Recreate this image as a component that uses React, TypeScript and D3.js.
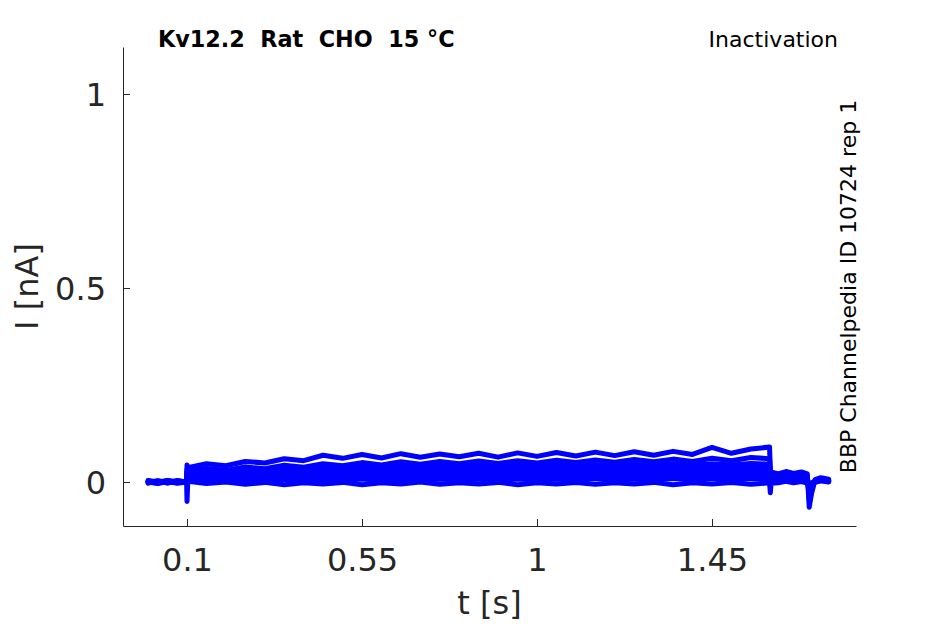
import { useRef, useEffect } from 'react';
import * as d3 from 'd3';

// Sample times (s) shared by every sweep: holding, step, tail
const timeS = [
  0, 0.025, 0.05, 0.075, 0.099,
  0.1, 0.102, 0.15, 0.2, 0.25, 0.3, 0.35, 0.4, 0.45, 0.5, 0.55, 0.6, 0.65, 0.7, 0.75, 0.8,
  0.85, 0.9, 0.95, 1.0, 1.05, 1.1, 1.15, 1.2, 1.25, 1.3, 1.35, 1.4, 1.45, 1.5, 1.55, 1.598,
  1.6, 1.602, 1.62, 1.64, 1.66, 1.68, 1.695, 1.7, 1.706, 1.715, 1.73, 1.75,
];

// Current (nA) per sweep
const sweepA = [
  0.003, -0.002, 0.003, -0.001, 0.002,
  0.044, 0.037, 0.047, 0.042, 0.053, 0.049, 0.06, 0.055, 0.069, 0.061, 0.071, 0.062, 0.073, 0.064, 0.072, 0.065,
  0.074, 0.064, 0.075, 0.066, 0.076, 0.067, 0.077, 0.068, 0.078, 0.069, 0.079, 0.071, 0.089, 0.074, 0.085, 0.09,
  0.03, 0.026, 0.021, 0.027, 0.022, 0.026, 0.021, -0.065, -0.03, 0.006, 0.011, 0.007,
];
const sweepB = [
  -0.002, 0.003, -0.001, 0.004, 0.0,
  0.032, 0.027, 0.035, 0.03, 0.039, 0.034, 0.043, 0.038, 0.047, 0.042, 0.05, 0.044, 0.052, 0.046, 0.053, 0.047,
  0.054, 0.048, 0.055, 0.049, 0.056, 0.05, 0.057, 0.051, 0.058, 0.052, 0.059, 0.053, 0.061, 0.055, 0.063, 0.06,
  0.024, 0.02, 0.016, 0.022, 0.017, 0.021, 0.017, -0.045, -0.02, 0.004, 0.009, 0.005,
];
const sweepC = [
  0.001, -0.003, 0.002, -0.002, 0.003,
  0.027, 0.023, 0.029, 0.026, 0.032, 0.029, 0.035, 0.031, 0.037, 0.034, 0.039, 0.036, 0.041, 0.037, 0.042, 0.038,
  0.043, 0.039, 0.043, 0.04, 0.044, 0.041, 0.045, 0.041, 0.046, 0.042, 0.047, 0.043, 0.047, 0.044, 0.048, 0.046,
  0.02, 0.017, 0.013, 0.018, 0.014, 0.018, 0.013, -0.035, -0.012, 0.003, 0.008, 0.004,
];
const sweepD = [
  0.004, 0.0, 0.003, -0.001, 0.001,
  0.022, 0.018, 0.023, 0.02, 0.025, 0.022, 0.027, 0.024, 0.029, 0.025, 0.03, 0.027, 0.031, 0.028, 0.032, 0.028,
  0.033, 0.029, 0.033, 0.03, 0.034, 0.03, 0.034, 0.031, 0.035, 0.032, 0.036, 0.032, 0.036, 0.033, 0.037, 0.035,
  0.016, 0.013, 0.01, 0.015, 0.011, 0.014, 0.01, -0.027, -0.008, 0.002, 0.007, 0.003,
];
const sweepE = [
  -0.003, 0.002, -0.002, 0.003, -0.001,
  0.017, 0.013, 0.018, 0.015, 0.019, 0.016, 0.02, 0.017, 0.021, 0.018, 0.022, 0.019, 0.023, 0.02, 0.023, 0.02,
  0.024, 0.021, 0.024, 0.021, 0.025, 0.022, 0.025, 0.022, 0.026, 0.023, 0.026, 0.023, 0.027, 0.024, 0.027, 0.025,
  0.012, 0.01, 0.007, 0.011, 0.008, 0.011, 0.007, -0.02, -0.005, 0.002, 0.006, 0.002,
];
const sweepF = [
  0.002, -0.001, 0.004, 0.0, 0.002,
  0.012, 0.008, 0.012, 0.009, 0.013, 0.01, 0.014, 0.011, 0.014, 0.011, 0.015, 0.012, 0.015, 0.012, 0.015, 0.012,
  0.016, 0.013, 0.016, 0.013, 0.016, 0.013, 0.017, 0.014, 0.017, 0.014, 0.017, 0.014, 0.018, 0.015, 0.018, 0.016,
  0.009, 0.007, 0.004, 0.008, 0.005, 0.008, 0.004, -0.015, -0.003, 0.001, 0.005, 0.002,
];
const sweepG = [
  -0.001, 0.003, -0.003, 0.002, -0.002,
  0.006, 0.002, 0.006, 0.003, 0.007, 0.004, 0.007, 0.003, 0.007, 0.004, 0.008, 0.004, 0.007, 0.004, 0.008, 0.005,
  0.008, 0.004, 0.008, 0.005, 0.008, 0.005, 0.009, 0.005, 0.008, 0.005, 0.009, 0.006, 0.009, 0.005, 0.009, 0.007,
  0.005, 0.003, 0.001, 0.005, 0.002, 0.004, 0.001, -0.01, -0.002, 0.001, 0.004, 0.001,
];
const sweepH = [
  0.0, -0.004, 0.001, -0.003, 0.0,
  -0.05, 0.002, -0.004, 0.0, -0.006, -0.001, -0.007, -0.002, -0.005, -0.001, -0.007, -0.002, -0.005, 0.0, -0.006, -0.002,
  -0.005, -0.001, -0.007, -0.002, -0.005, -0.001, -0.006, -0.002, -0.005, -0.001, -0.007, -0.002, -0.005, -0.001, -0.006, -0.002,
  -0.028, -0.003, -0.002, 0.002, -0.002, 0.001, -0.003, -0.006, -0.003, -0.001, 0.003, 0.0,
];

const sweeps = [sweepA, sweepB, sweepC, sweepD, sweepE, sweepF, sweepG, sweepH];

const xTicks = [0.1, 0.55, 1, 1.45];
const yTicks = [0, 0.5, 1];
const xDomain = [-0.0646, 1.8203];
const yDomain = [-0.1134, 1.1211];

const titleText = 'Kv12.2  Rat  CHO  15 °C';
const protocolText = 'Inactivation';
const sourceText = 'BBP Channelpedia ID 10724 rep 1';

export default function App() {
  const svgRef = useRef<SVGSVGElement>(null);

  useEffect(() => {
    if (!svgRef.current) return;
    const svg = d3.select(svgRef.current);
    svg.selectAll('*').remove();

    const width = 945;
    const height = 624;
    const margin = { top: 47, right: 89, bottom: 98, left: 123 };
    const innerWidth = width - margin.left - margin.right;
    const innerHeight = height - margin.top - margin.bottom;
    const axisColor = '#262626';
    const font = '"DejaVu Sans", sans-serif';

    svg.attr('width', width).attr('height', height);
    svg.append('rect').attr('width', width).attr('height', height).attr('fill', '#fff');
    const g = svg.append('g').attr('transform', `translate(${margin.left},${margin.top})`);

    const x = d3.scaleLinear().domain(xDomain).range([0, innerWidth]);
    const y = d3.scaleLinear().domain(yDomain).range([innerHeight, 0]);

    // Traces
    const line = d3.line<number>()
      .x((_, i) => x(timeS[i]))
      .y((d) => y(d));

    g.append('g')
      .selectAll('path')
      .data(sweeps)
      .join('path')
      .attr('fill', 'none')
      .attr('stroke', '#0000ff')
      .attr('stroke-width', 5)
      .attr('stroke-linejoin', 'round')
      .attr('stroke-linecap', 'round')
      .attr('d', (d) => line(d));

    // Axes (box off, ticks inward)
    const xAxis = g.append('g')
      .attr('transform', `translate(0,${innerHeight})`)
      .call(d3.axisBottom(x).tickValues(xTicks).tickSizeInner(-7).tickSizeOuter(0).tickPadding(22).tickFormat((d) => String(d)));
    const yAxis = g.append('g')
      .call(d3.axisLeft(y).tickValues(yTicks).tickSizeInner(-7).tickSizeOuter(0).tickPadding(17).tickFormat((d) => String(d)));

    [xAxis, yAxis].forEach((ax) => {
      ax.select('.domain').attr('stroke', axisColor).attr('stroke-width', 1);
      ax.selectAll('.tick line').attr('stroke', axisColor);
      ax.selectAll('.tick text')
        .attr('fill', axisColor)
        .attr('font-family', font)
        .attr('font-size', 32);
    });
    xAxis.selectAll('.tick text').attr('dy', '0.71em');
    yAxis.selectAll('.tick text').attr('dy', '0.36em');

    // Axis labels
    svg.append('text')
      .attr('x', margin.left + innerWidth / 2)
      .attr('y', 614)
      .attr('text-anchor', 'middle')
      .attr('fill', axisColor)
      .attr('font-family', font)
      .attr('font-size', 32)
      .text('t [s]');

    svg.append('text')
      .attr('transform', `translate(38,${margin.top + innerHeight / 2}) rotate(-90)`)
      .attr('text-anchor', 'middle')
      .attr('fill', axisColor)
      .attr('font-family', font)
      .attr('font-size', 32)
      .text('I [nA]');

    // Title and annotations
    svg.append('text')
      .attr('x', 158)
      .attr('y', 47)
      .attr('xml:space', 'preserve')
      .style('white-space', 'pre')
      .attr('fill', '#000')
      .attr('font-family', font)
      .attr('font-weight', 'bold')
      .attr('font-size', 22.3)
      .text(titleText);

    svg.append('text')
      .attr('x', 838)
      .attr('y', 47)
      .attr('text-anchor', 'end')
      .attr('fill', '#000')
      .attr('font-family', font)
      .attr('font-size', 22)
      .text(protocolText);

    svg.append('text')
      .attr('transform', `translate(856,${margin.top + innerHeight / 2}) rotate(-90)`)
      .attr('text-anchor', 'middle')
      .attr('fill', '#000')
      .attr('font-family', font)
      .attr('font-size', 22)
      .text(sourceText);
  }, []);

  return (
    <div style={{ position: 'absolute', left: 0, top: 0 }}>
      <svg ref={svgRef} style={{ display: 'block' }} />
    </div>
  );
}
